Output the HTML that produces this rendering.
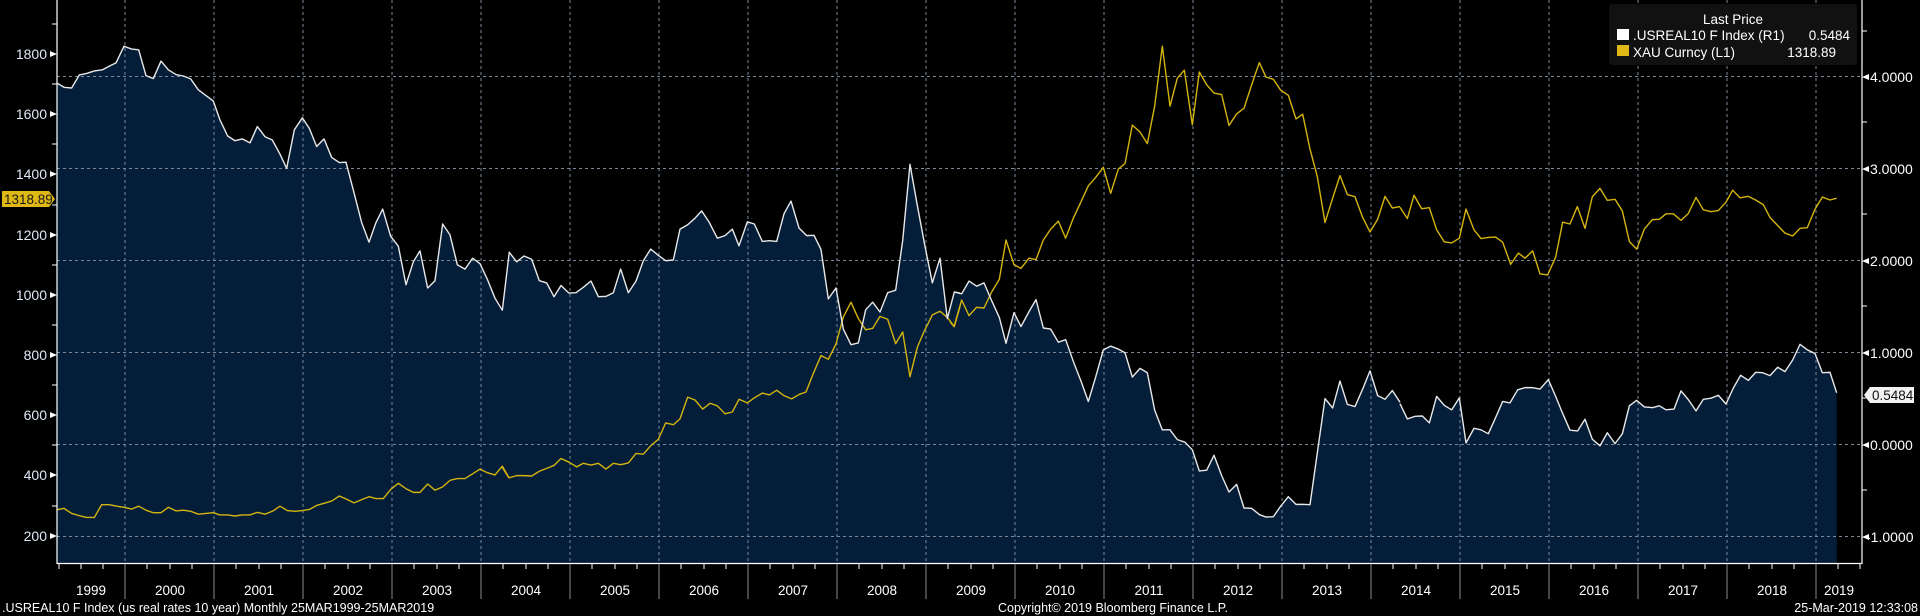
<!DOCTYPE html>
<html><head><meta charset="utf-8"><style>
html,body{margin:0;padding:0;background:#000;}
svg{display:block;font-family:"Liberation Sans",sans-serif;}
</style></head><body>
<svg width="1920" height="616" viewBox="0 0 1920 616" xmlns="http://www.w3.org/2000/svg">
<rect width="1920" height="616" fill="#000"/>
<defs>
<clipPath id="pc"><rect x="57" y="0" width="1805" height="563"/></clipPath>
</defs>
<g clip-path="url(#pc)">
<!-- fills -->
<g fill="#041e3a" stroke="none">
<g transform="translate(50,0) scale(0.33333,0.363636)">
<polygon points="20,1550 20,228 42,240 65,242 88,206 110,202 133,195 157,192 178,182 198,173 222,127 245,135 266,137 288,208 310,216 333,168 355,192 378,205 400,209 422,217 445,247 467,262 490,278 510,330 533,374 555,387 577,382 600,393 622,348 645,376 667,385 690,424 710,463 733,357 757,324 778,353 800,403 822,382 845,433 868,447 888,446 912,530 935,612 957,666 978,612 998,575 1022,650 1045,677 1068,783 1090,720 1110,690 1133,792 1155,772 1178,616 1200,646 1222,728 1245,740 1268,710 1290,725 1312,768 1335,820 1357,853 1378,692 1378,1550"/>
</g>
<g transform="translate(500,0) scale(0.33333,0.363636)">
<polygon points="5,1550 5,850 27,693 50,720 72,704 95,713 118,772 140,778 162,816 183,785 207,806 228,805 250,790 273,773 295,816 318,815 340,805 362,740 385,805 408,773 430,717 452,685 475,702 497,717 520,715 540,630 563,618 585,600 605,580 628,612 652,655 675,648 697,630 717,676 742,610 763,616 787,664 808,662 830,664 852,588 873,553 897,627 920,648 942,647 963,686 985,822 1008,792 1030,905 1053,948 1075,943 1097,852 1118,831 1140,858 1163,805 1187,798 1208,662 1230,452 1252,565 1273,668 1297,778 1320,710 1342,876 1363,803 1380,806 1380,1550"/>
</g>
<g transform="translate(950,0) scale(0.33333,0.363636)">
<polygon points="0,1550 0,850 12,803 35,808 57,773 80,787 102,778 125,827 148,873 168,944 192,860 213,898 237,857 258,824 280,902 302,905 325,941 347,934 370,994 393,1048 415,1104 437,1037 460,962 482,952 505,960 525,970 547,1037 570,1013 592,1025 614,1128 637,1182 660,1182 682,1209 705,1216 727,1237 748,1295 770,1293 792,1252 815,1308 837,1353 860,1332 882,1397 905,1398 928,1415 948,1422 970,1421 992,1392 1015,1366 1038,1387 1058,1387 1080,1388 1102,1245 1125,1096 1148,1122 1170,1048 1192,1112 1215,1118 1238,1070 1260,1020 1283,1088 1305,1098 1327,1074 1350,1106 1372,1152 1380,1152 1380,1550"/>
</g>
<g transform="translate(1400,0) scale(0.33333,0.363636)">
<polygon points="0,1550 0,1110 22,1152 45,1145 67,1144 88,1163 110,1090 133,1115 155,1127 178,1094 198,1218 222,1178 243,1182 265,1193 287,1148 308,1104 330,1108 353,1072 375,1066 398,1066 420,1070 445,1044 467,1090 488,1137 510,1183 533,1185 555,1153 577,1208 600,1226 622,1190 645,1220 667,1193 688,1116 710,1101 733,1119 757,1121 778,1116 798,1127 822,1125 843,1075 865,1099 888,1130 910,1098 933,1095 955,1087 978,1111 1000,1067 1022,1032 1045,1046 1067,1024 1088,1025 1110,1033 1133,1010 1155,1022 1178,990 1200,947 1222,962 1245,972 1267,1025 1290,1024 1310,1080 1310,1550"/>
</g>
</g>
<!-- grid -->
<g stroke="#7d8796" stroke-width="1" stroke-dasharray="3,3" fill="none">
<line x1="57" y1="76.5" x2="1862" y2="76.5"/>
<line x1="57" y1="168.5" x2="1862" y2="168.5"/>
<line x1="57" y1="260.5" x2="1862" y2="260.5"/>
<line x1="57" y1="352.5" x2="1862" y2="352.5"/>
<line x1="57" y1="444.5" x2="1862" y2="444.5"/>
<line x1="57" y1="536.5" x2="1862" y2="536.5"/>
<line x1="125" y1="0" x2="125" y2="563"/><line x1="214" y1="0" x2="214" y2="563"/><line x1="303" y1="0" x2="303" y2="563"/><line x1="392" y1="0" x2="392" y2="563"/><line x1="481" y1="0" x2="481" y2="563"/><line x1="570" y1="0" x2="570" y2="563"/><line x1="659" y1="0" x2="659" y2="563"/><line x1="748" y1="0" x2="748" y2="563"/><line x1="837" y1="0" x2="837" y2="563"/><line x1="926" y1="0" x2="926" y2="563"/><line x1="1015" y1="0" x2="1015" y2="563"/><line x1="1104" y1="0" x2="1104" y2="563"/><line x1="1193" y1="0" x2="1193" y2="563"/><line x1="1282" y1="0" x2="1282" y2="563"/><line x1="1371" y1="0" x2="1371" y2="563"/><line x1="1460" y1="0" x2="1460" y2="563"/><line x1="1549" y1="0" x2="1549" y2="563"/><line x1="1638" y1="0" x2="1638" y2="563"/><line x1="1727" y1="0" x2="1727" y2="563"/><line x1="1816" y1="0" x2="1816" y2="563"/>
</g>
<!-- gold line -->
<g fill="none" stroke="#d4b40e" stroke-width="1.4" stroke-linejoin="round">
<polyline vector-effect="non-scaling-stroke" transform="translate(50,0) scale(0.33333,0.363636)" points="20,1402 42,1398 65,1412 88,1418 110,1423 133,1423 155,1388 178,1388 200,1392 222,1395 245,1400 266,1392 288,1403 310,1410 333,1410 355,1395 378,1405 400,1403 422,1406 445,1414 467,1412 490,1410 510,1416 533,1416 555,1419 577,1416 600,1416 622,1409 645,1414 667,1406 690,1392 712,1404 735,1406 757,1404 778,1401 800,1390 822,1384 845,1378 868,1364 890,1373 912,1383 935,1374 957,1366 978,1371 1000,1371 1022,1346 1045,1329 1068,1344 1090,1354 1110,1354 1133,1331 1155,1348 1178,1339 1200,1321 1222,1316 1245,1316 1268,1303 1290,1290 1312,1300 1335,1306 1357,1282 1378,1315"/>
<polyline vector-effect="non-scaling-stroke" transform="translate(500,0) scale(0.33333,0.363636)" points="5,1283 27,1314 50,1308 72,1308 95,1309 118,1296 140,1288 162,1280 183,1261 207,1271 230,1284 250,1274 273,1279 295,1274 318,1290 340,1274 362,1278 385,1273 408,1247 430,1249 452,1226 475,1208 497,1163 520,1168 540,1152 563,1092 585,1100 608,1125 630,1109 652,1116 675,1138 697,1133 717,1098 742,1108 763,1094 787,1081 808,1086 830,1073 852,1088 875,1097 897,1085 918,1078 940,1027 963,978 985,988 1008,946 1030,872 1053,831 1075,876 1097,907 1118,903 1140,870 1163,878 1187,945 1208,913 1230,1036 1252,955 1273,910 1297,866 1320,856 1342,873 1363,898 1380,843"/>
<polyline vector-effect="non-scaling-stroke" transform="translate(950,0) scale(0.33333,0.363636)" points="0,885 12,898 35,825 57,868 80,845 102,847 125,803 148,768 168,660 192,728 213,738 237,710 258,714 280,660 302,630 325,608 347,655 370,600 393,555 415,511 437,488 460,460 482,532 505,465 525,450 547,344 570,363 592,395 614,292 637,127 660,292 682,215 703,193 727,343 748,198 770,233 792,256 815,260 837,345 860,313 882,298 905,233 928,172 948,212 970,218 992,248 1015,262 1038,327 1058,314 1080,410 1102,486 1125,612 1148,545 1170,483 1192,535 1215,541 1238,598 1260,638 1283,603 1305,540 1327,572 1350,568"/>
<polyline vector-effect="non-scaling-stroke" transform="translate(1400,0) scale(0.33333,0.363636)" points="0,570 22,601 42,537 65,574 88,571 110,632 133,665 155,668 178,655 198,575 222,632 243,656 265,653 287,652 308,666 332,727 355,696 375,710 398,690 420,753 443,756 467,707 488,611 510,616 532,568 555,628 577,541 600,518 622,551 645,548 667,580 688,664 710,685 733,630 757,604 778,603 798,588 820,588 843,606 865,587 888,543 910,577 933,582 955,579 978,556 998,523 1020,544 1045,540 1067,550 1090,563 1110,598 1133,620 1155,641 1178,649 1200,628 1222,626 1245,575 1267,542 1290,550 1310,545"/>
</g>
<!-- white line -->
<g fill="none" stroke="#e8e8e8" stroke-width="1.4" stroke-linejoin="round">
<polyline vector-effect="non-scaling-stroke" transform="translate(50,0) scale(0.33333,0.363636)" points="20,228 42,240 65,242 88,206 110,202 133,195 157,192 178,182 198,173 222,127 245,135 266,137 288,208 310,216 333,168 355,192 378,205 400,209 422,217 445,247 467,262 490,278 510,330 533,374 555,387 577,382 600,393 622,348 645,376 667,385 690,424 710,463 733,357 757,324 778,353 800,403 822,382 845,433 868,447 888,446 912,530 935,612 957,666 978,612 998,575 1022,650 1045,677 1068,783 1090,720 1110,690 1133,792 1155,772 1178,616 1200,646 1222,728 1245,740 1268,710 1290,725 1312,768 1335,820 1357,853 1378,692"/>
<polyline vector-effect="non-scaling-stroke" transform="translate(500,0) scale(0.33333,0.363636)" points="27,693 50,720 72,704 95,713 118,772 140,778 162,816 183,785 207,806 228,805 250,790 273,773 295,816 318,815 340,805 362,740 385,805 408,773 430,717 452,685 475,702 497,717 520,715 540,630 563,618 585,600 605,580 628,612 652,655 675,648 697,630 717,676 742,610 763,616 787,664 808,662 830,664 852,588 873,553 897,627 920,648 942,647 963,686 985,822 1008,792 1030,905 1053,948 1075,943 1097,852 1118,831 1140,858 1163,805 1187,798 1208,662 1230,452 1252,565 1273,668 1297,778 1320,710 1342,876 1363,803 1380,806"/>
<polyline vector-effect="non-scaling-stroke" transform="translate(950,0) scale(0.33333,0.363636)" points="12,803 35,808 57,773 80,787 102,778 125,827 148,873 168,944 192,860 213,898 237,857 258,824 280,902 302,905 325,941 347,934 370,994 393,1048 415,1104 437,1037 460,962 482,952 505,960 525,970 547,1037 570,1013 592,1025 614,1128 637,1182 660,1182 682,1209 705,1216 727,1237 748,1295 770,1293 792,1252 815,1308 837,1353 860,1332 882,1397 905,1398 928,1415 948,1422 970,1421 992,1392 1015,1366 1038,1387 1058,1387 1080,1388 1102,1245 1125,1096 1148,1122 1170,1048 1192,1112 1215,1118 1238,1070 1260,1020 1283,1088 1305,1098 1327,1074 1350,1106"/>
<polyline vector-effect="non-scaling-stroke" transform="translate(1400,0) scale(0.33333,0.363636)" points="0,1110 22,1152 45,1145 67,1144 88,1163 110,1090 133,1115 155,1127 178,1094 198,1218 222,1178 243,1182 265,1193 287,1148 308,1104 330,1108 353,1072 375,1066 398,1066 420,1070 445,1044 467,1090 488,1137 510,1183 533,1185 555,1153 577,1208 600,1226 622,1190 645,1220 667,1193 688,1116 710,1101 733,1119 757,1121 778,1116 798,1127 822,1125 843,1075 865,1099 888,1130 910,1098 933,1095 955,1087 978,1111 1000,1067 1022,1032 1045,1046 1067,1024 1088,1025 1110,1033 1133,1010 1155,1022 1178,990 1200,947 1222,962 1245,972 1267,1025 1290,1024 1310,1080"/>
</g>
</g>
<!-- axes -->
<g stroke="#fff" stroke-width="1.2">
<line x1="57" y1="0" x2="57" y2="564"/>
<line x1="1862" y1="0" x2="1862" y2="564"/>
<line x1="57" y1="563.5" x2="1862" y2="563.5"/>
</g>
<!-- left ticks -->
<g fill="#fff">
<polygon points="57,54 50,51 50,57"/><polygon points="57,114 50,111 50,117"/><polygon points="57,174 50,171 50,177"/><polygon points="57,235 50,232 50,238"/><polygon points="57,295 50,292 50,298"/><polygon points="57,355 50,352 50,358"/><polygon points="57,415 50,412 50,418"/><polygon points="57,475 50,472 50,478"/><polygon points="57,536 50,533 50,539"/>
</g>
<g stroke="#fff" stroke-width="1">
<line x1="52" y1="24" x2="57" y2="24"/><line x1="52" y1="84" x2="57" y2="84"/><line x1="52" y1="144" x2="57" y2="144"/><line x1="52" y1="205" x2="57" y2="205"/><line x1="52" y1="265" x2="57" y2="265"/><line x1="52" y1="325" x2="57" y2="325"/><line x1="52" y1="385" x2="57" y2="385"/><line x1="52" y1="445" x2="57" y2="445"/><line x1="52" y1="506" x2="57" y2="506"/>
<line x1="1862" y1="31" x2="1867" y2="31"/><line x1="1862" y1="122" x2="1867" y2="122"/><line x1="1862" y1="214" x2="1867" y2="214"/><line x1="1862" y1="306" x2="1867" y2="306"/><line x1="1862" y1="398" x2="1867" y2="398"/><line x1="1862" y1="490" x2="1867" y2="490"/>
</g>
<g fill="#dfe8f5" font-size="14" text-anchor="end">
<text x="47" y="59">1800</text><text x="47" y="119">1600</text><text x="47" y="179">1400</text><text x="47" y="240">1200</text><text x="47" y="300">1000</text><text x="47" y="360">800</text><text x="47" y="420">600</text><text x="47" y="480">400</text><text x="47" y="541">200</text>
</g>
<polygon points="2,191 49,191 55,199 49,207 2,207" fill="#e0b816"/>
<text x="4" y="204" font-size="13.5" fill="#1a1a1a">1318.89</text>
<!-- right ticks -->
<g fill="#fff">
<polygon points="1862,77 1869,74 1869,80"/><polygon points="1862,169 1869,166 1869,172"/><polygon points="1862,261 1869,258 1869,264"/><polygon points="1862,353 1869,350 1869,356"/><polygon points="1862,445 1869,442 1869,448"/><polygon points="1862,537 1869,534 1869,540"/>
</g>
<g fill="#fff" font-size="14">
<text x="1870" y="82">4.0000</text><text x="1870" y="174">3.0000</text><text x="1870" y="266">2.0000</text><text x="1870" y="358">1.0000</text><text x="1870" y="450">0.0000</text><text x="1866" y="542">-1.0000</text>
</g>
<polygon points="1864,395 1870,387 1914,387 1914,403 1870,403" fill="#f2f2f2"/>
<text x="1872" y="400" font-size="13.5" fill="#111">0.5484</text>
<!-- bottom ticks -->
<g stroke="#fff" stroke-width="1">
<line x1="59" y1="564" x2="59" y2="569"/><line x1="81" y1="564" x2="81" y2="569"/><line x1="103" y1="564" x2="103" y2="569"/>
<line x1="147" y1="564" x2="147" y2="569"/><line x1="170" y1="564" x2="170" y2="569"/><line x1="192" y1="564" x2="192" y2="569"/>
<line x1="236" y1="564" x2="236" y2="569"/><line x1="259" y1="564" x2="259" y2="569"/><line x1="281" y1="564" x2="281" y2="569"/>
<line x1="325" y1="564" x2="325" y2="569"/><line x1="348" y1="564" x2="348" y2="569"/><line x1="370" y1="564" x2="370" y2="569"/>
<line x1="414" y1="564" x2="414" y2="569"/><line x1="437" y1="564" x2="437" y2="569"/><line x1="459" y1="564" x2="459" y2="569"/>
<line x1="503" y1="564" x2="503" y2="569"/><line x1="526" y1="564" x2="526" y2="569"/><line x1="548" y1="564" x2="548" y2="569"/>
<line x1="592" y1="564" x2="592" y2="569"/><line x1="615" y1="564" x2="615" y2="569"/><line x1="637" y1="564" x2="637" y2="569"/>
<line x1="681" y1="564" x2="681" y2="569"/><line x1="704" y1="564" x2="704" y2="569"/><line x1="726" y1="564" x2="726" y2="569"/>
<line x1="770" y1="564" x2="770" y2="569"/><line x1="793" y1="564" x2="793" y2="569"/><line x1="815" y1="564" x2="815" y2="569"/>
<line x1="859" y1="564" x2="859" y2="569"/><line x1="882" y1="564" x2="882" y2="569"/><line x1="904" y1="564" x2="904" y2="569"/>
<line x1="948" y1="564" x2="948" y2="569"/><line x1="971" y1="564" x2="971" y2="569"/><line x1="993" y1="564" x2="993" y2="569"/>
<line x1="1037" y1="564" x2="1037" y2="569"/><line x1="1060" y1="564" x2="1060" y2="569"/><line x1="1082" y1="564" x2="1082" y2="569"/>
<line x1="1126" y1="564" x2="1126" y2="569"/><line x1="1149" y1="564" x2="1149" y2="569"/><line x1="1171" y1="564" x2="1171" y2="569"/>
<line x1="1215" y1="564" x2="1215" y2="569"/><line x1="1238" y1="564" x2="1238" y2="569"/><line x1="1260" y1="564" x2="1260" y2="569"/>
<line x1="1304" y1="564" x2="1304" y2="569"/><line x1="1327" y1="564" x2="1327" y2="569"/><line x1="1349" y1="564" x2="1349" y2="569"/>
<line x1="1393" y1="564" x2="1393" y2="569"/><line x1="1416" y1="564" x2="1416" y2="569"/><line x1="1438" y1="564" x2="1438" y2="569"/>
<line x1="1482" y1="564" x2="1482" y2="569"/><line x1="1505" y1="564" x2="1505" y2="569"/><line x1="1527" y1="564" x2="1527" y2="569"/>
<line x1="1571" y1="564" x2="1571" y2="569"/><line x1="1594" y1="564" x2="1594" y2="569"/><line x1="1616" y1="564" x2="1616" y2="569"/>
<line x1="1660" y1="564" x2="1660" y2="569"/><line x1="1683" y1="564" x2="1683" y2="569"/><line x1="1705" y1="564" x2="1705" y2="569"/>
<line x1="1749" y1="564" x2="1749" y2="569"/><line x1="1772" y1="564" x2="1772" y2="569"/><line x1="1794" y1="564" x2="1794" y2="569"/>
<line x1="1838" y1="564" x2="1838" y2="569"/><line x1="1860" y1="564" x2="1860" y2="569"/>
</g>
<g stroke="#8a8a8a" stroke-width="1">
<line x1="125" y1="564" x2="125" y2="599"/><line x1="214" y1="564" x2="214" y2="599"/><line x1="303" y1="564" x2="303" y2="599"/><line x1="392" y1="564" x2="392" y2="599"/><line x1="481" y1="564" x2="481" y2="599"/><line x1="570" y1="564" x2="570" y2="599"/><line x1="659" y1="564" x2="659" y2="599"/><line x1="748" y1="564" x2="748" y2="599"/><line x1="837" y1="564" x2="837" y2="599"/><line x1="926" y1="564" x2="926" y2="599"/><line x1="1015" y1="564" x2="1015" y2="599"/><line x1="1104" y1="564" x2="1104" y2="599"/><line x1="1193" y1="564" x2="1193" y2="599"/><line x1="1282" y1="564" x2="1282" y2="599"/><line x1="1371" y1="564" x2="1371" y2="599"/><line x1="1460" y1="564" x2="1460" y2="599"/><line x1="1549" y1="564" x2="1549" y2="599"/><line x1="1638" y1="564" x2="1638" y2="599"/><line x1="1727" y1="564" x2="1727" y2="599"/><line x1="1816" y1="564" x2="1816" y2="599"/>
</g>
<g fill="#fff" font-size="13.5" text-anchor="middle">
<text x="91" y="595">1999</text><text x="170" y="595">2000</text><text x="259" y="595">2001</text><text x="348" y="595">2002</text><text x="437" y="595">2003</text><text x="526" y="595">2004</text><text x="615" y="595">2005</text><text x="704" y="595">2006</text><text x="793" y="595">2007</text><text x="882" y="595">2008</text><text x="971" y="595">2009</text><text x="1060" y="595">2010</text><text x="1149" y="595">2011</text><text x="1238" y="595">2012</text><text x="1327" y="595">2013</text><text x="1416" y="595">2014</text><text x="1505" y="595">2015</text><text x="1594" y="595">2016</text><text x="1683" y="595">2017</text><text x="1772" y="595">2018</text><text x="1839" y="595">2019</text>
</g>
<g fill="#fff" font-size="12.5">
<text x="2" y="612">.USREAL10 F Index (us real rates 10 year)  Monthly 25MAR1999-25MAR2019</text>
<text x="998" y="612">Copyright© 2019 Bloomberg Finance L.P.</text>
<text x="1918" y="612" text-anchor="end">25-Mar-2019 12:33:08</text>
</g>
<!-- legend -->
<rect x="1609" y="4" width="248" height="61" rx="3" fill="#111"/>
<text x="1733" y="24" font-size="13.5" fill="#fff" text-anchor="middle">Last Price</text>
<rect x="1617" y="29" width="12" height="11" fill="#fff"/>
<rect x="1617" y="45" width="12" height="11" fill="#e0b816"/>
<g fill="#fff" font-size="13.5">
<text x="1633" y="40">.USREAL10 F Index  (R1)</text>
<text x="1850" y="40" text-anchor="end">0.5484</text>
<text x="1633" y="57">XAU Curncy  (L1)</text>
<text x="1836" y="57" text-anchor="end">1318.89</text>
</g>
</svg>
</body></html>
